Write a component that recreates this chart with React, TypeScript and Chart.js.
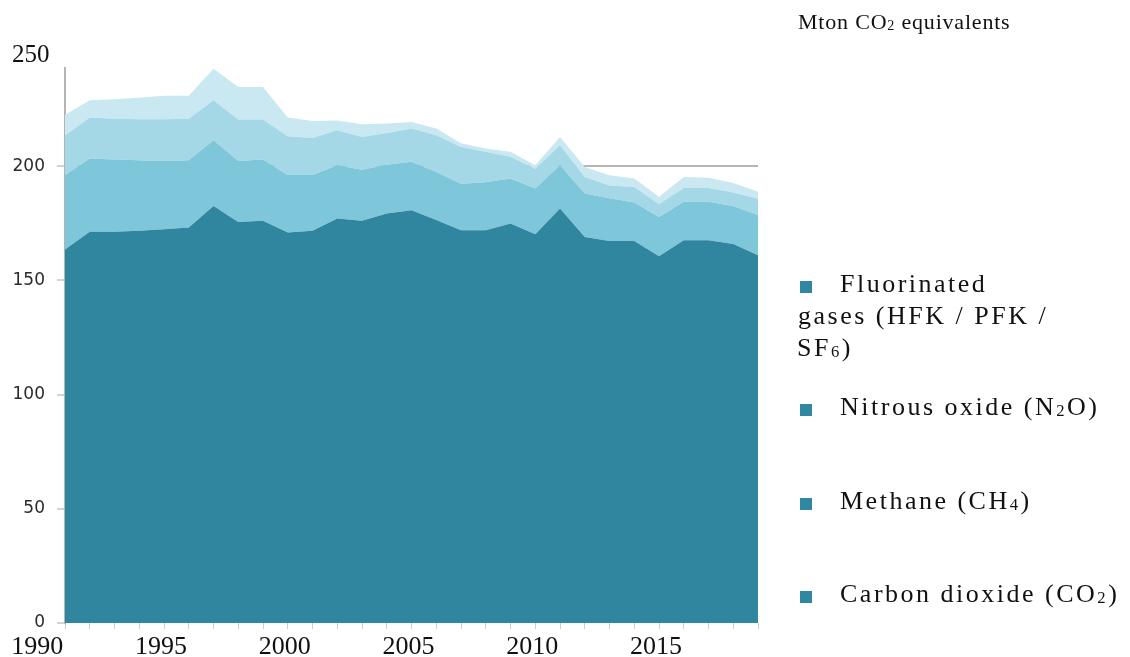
import React, { useEffect, useRef } from "react";
import { Chart, registerables } from "chart.js";

Chart.register(...registerables);

// ---- data (Mton CO2 equivalents) ----
const years = [
  1991, 1992, 1993, 1994, 1995, 1996, 1997, 1998, 1999, 2000,
  2001, 2002, 2003, 2004, 2005, 2006, 2007, 2008, 2009, 2010,
  2011, 2012, 2013, 2014, 2015, 2016, 2017, 2018, 2019,
];
const co2 = [
  163.5, 171.3, 171.3, 171.7, 172.4, 173.2, 182.6, 175.6, 176.1, 171.0,
  171.7, 177.1, 176.1, 179.3, 180.7, 176.4, 172.0, 172.0, 174.9, 170.2,
  181.5, 169.0, 167.2, 167.2, 160.6, 167.6, 167.6, 165.9, 161.0,
];
const ch4 = [
  32.5, 32.1, 31.6, 30.9, 29.9, 29.4, 28.8, 26.7, 26.8, 25.1,
  24.4, 23.3, 22.4, 21.3, 21.2, 21.1, 20.3, 21.0, 19.7, 20.0,
  18.9, 19.0, 18.8, 16.9, 17.2, 16.8, 16.8, 16.7, 17.6,
];
const n2o = [
  17.5, 17.9, 17.9, 18.0, 18.3, 18.2, 17.5, 18.1, 17.5, 17.0,
  16.3, 15.3, 14.3, 13.9, 14.6, 16.1, 16.1, 13.3, 9.5, 8.7,
  8.8, 7.3, 5.5, 6.8, 5.6, 6.1, 6.1, 5.9, 7.2,
];
const fgas = [
  9.0, 7.6, 8.5, 9.4, 10.2, 10.0, 13.8, 14.3, 14.3, 8.2,
  7.4, 4.3, 5.6, 4.2, 2.9, 2.9, 1.6, 1.4, 2.2, 1.5,
  3.6, 4.4, 4.5, 3.7, 3.2, 4.8, 4.4, 4.2, 3.0,
];
const seriesNames = [
  "Carbon dioxide (CO2)",
  "Methane (CH4)",
  "Nitrous oxide (N2O)",
  "Fluorinated gases (HFK / PFK / SF6)",
];
const yTicks = [0, 50, 100, 150, 200];
const xLabelYears = [1990, 1995, 2000, 2005, 2010, 2015];

const COLORS = ["#30869F", "#7EC6D9", "#A4D8E7", "#C9E8F1"];
const LEGEND_SQ = "#2F87A0";
const SERIF = "'Liberation Serif', 'Times New Roman', serif";

const xLabelPlugin = {
  id: "xLabelPlugin",
  afterDraw(chart: any) {
    const xs = chart.scales.x;
    const ctx = chart.ctx;
    ctx.save();
    ctx.font = "26px 'Liberation Serif'";
    ctx.fillStyle = "#111";
    ctx.textAlign = "center";
    ctx.textBaseline = "alphabetic";
    for (const yr of xLabelYears) {
      ctx.fillText(String(yr), xs.getPixelForValue(yr) - 3, 654);
    }
    ctx.restore();
  },
};

const Sub = ({ children }: { children: any }) => (
  <span style={{ fontSize: "0.64em", verticalAlign: "-0.06em", lineHeight: 0 }}>{children}</span>
);

const textStyle = (left: number, top: number, extra: any = {}) => ({
  position: "absolute" as const,
  left,
  top,
  fontFamily: SERIF,
  fontSize: 26,
  lineHeight: "26px",
  letterSpacing: "2.5px",
  color: "#111",
  whiteSpace: "nowrap" as const,
  ...extra,
});

const sq = (top: number) => ({
  position: "absolute" as const,
  left: 800,
  top,
  width: 12,
  height: 12,
  background: LEGEND_SQ,
});

export default function App() {
  const ref = useRef<HTMLCanvasElement | null>(null);

  useEffect(() => {
    if (!ref.current) return;
    const series = [co2, ch4, n2o, fgas];
    const chart = new Chart(ref.current, {
      type: "line",
      data: {
        datasets: series.map((s, i) => ({
          label: seriesNames[i],
          data: years.map((yr, j) => ({ x: yr, y: s[j] })),
          backgroundColor: COLORS[i],
          borderColor: COLORS[i],
          borderWidth: 0,
          pointRadius: 0,
          tension: 0,
          fill: i === 0 ? "origin" : "-1",
        })),
      },
      options: {
        animation: false,
        responsive: true,
        maintainAspectRatio: false,
        layout: { padding: { top: 68, right: 372, bottom: 0, left: 0 } },
        plugins: { legend: { display: false }, tooltip: { enabled: false }, title: { display: false } },
        scales: {
          x: {
            type: "linear",
            min: 1991,
            max: 2019,
            ticks: { display: false, stepSize: 1, autoSkip: false },
            grid: {
              drawOnChartArea: false,
              drawTicks: true,
              tickLength: 6,
              tickColor: "#cfcfcf",
              tickWidth: 1,
            },
            border: { display: false },
            afterFit: (scale: any) => {
              scale.height = 34;
            },
          },
          y: {
            stacked: true,
            min: 0,
            max: 243,
            afterBuildTicks: (scale: any) => {
              scale.ticks = yTicks.map((v) => ({ value: v }));
            },
            ticks: {
              padding: 12,
              color: "#2a2a2a",
              font: { family: "'DejaVu Sans'", size: 17 },
            },
            grid: {
              color: (c: any) => (c.tick && c.tick.value === 200 ? "#b5b5b5" : "rgba(0,0,0,0)"),
              lineWidth: 2,
              drawTicks: true,
              tickLength: 8,
              tickColor: "#c4c4c4",
              tickWidth: 1.5,
            },
            border: { display: true, color: "#b4b4b4", width: 2 },
            afterFit: (scale: any) => {
              scale.width = 65;
            },
          },
        },
      },
      plugins: [xLabelPlugin],
    } as any);
    return () => chart.destroy();
  }, []);

  return (
    <div style={{ position: "absolute", left: 0, top: 0, width: 1130, height: 657, background: "#fff", overflow: "hidden" }}>
      <div style={{ position: "absolute", left: 0, top: 0, width: 1130, height: 657 }}>
        <canvas ref={ref} />
      </div>
      <div style={textStyle(12, 41, { fontSize: 25, lineHeight: "25px", letterSpacing: "0px" })}>250</div>
      <div style={textStyle(798, 11, { fontSize: 22, lineHeight: "22px", letterSpacing: "0.8px" })}>
        Mton CO<Sub>2</Sub> equivalents
      </div>

      <div style={sq(281)} />
      <div style={textStyle(840, 271)}>Fluorinated</div>
      <div style={textStyle(798, 303)}>gases (HFK / PFK /</div>
      <div style={textStyle(797, 335)}>
        SF<Sub>6</Sub>)
      </div>

      <div style={sq(404)} />
      <div style={textStyle(840, 394)}>
        Nitrous oxide (N<Sub>2</Sub>O)
      </div>

      <div style={sq(498)} />
      <div style={textStyle(840, 488)}>
        Methane (CH<Sub>4</Sub>)
      </div>

      <div style={sq(591)} />
      <div style={textStyle(840, 581)}>
        Carbon dioxide (CO<Sub>2</Sub>)
      </div>
    </div>
  );
}
